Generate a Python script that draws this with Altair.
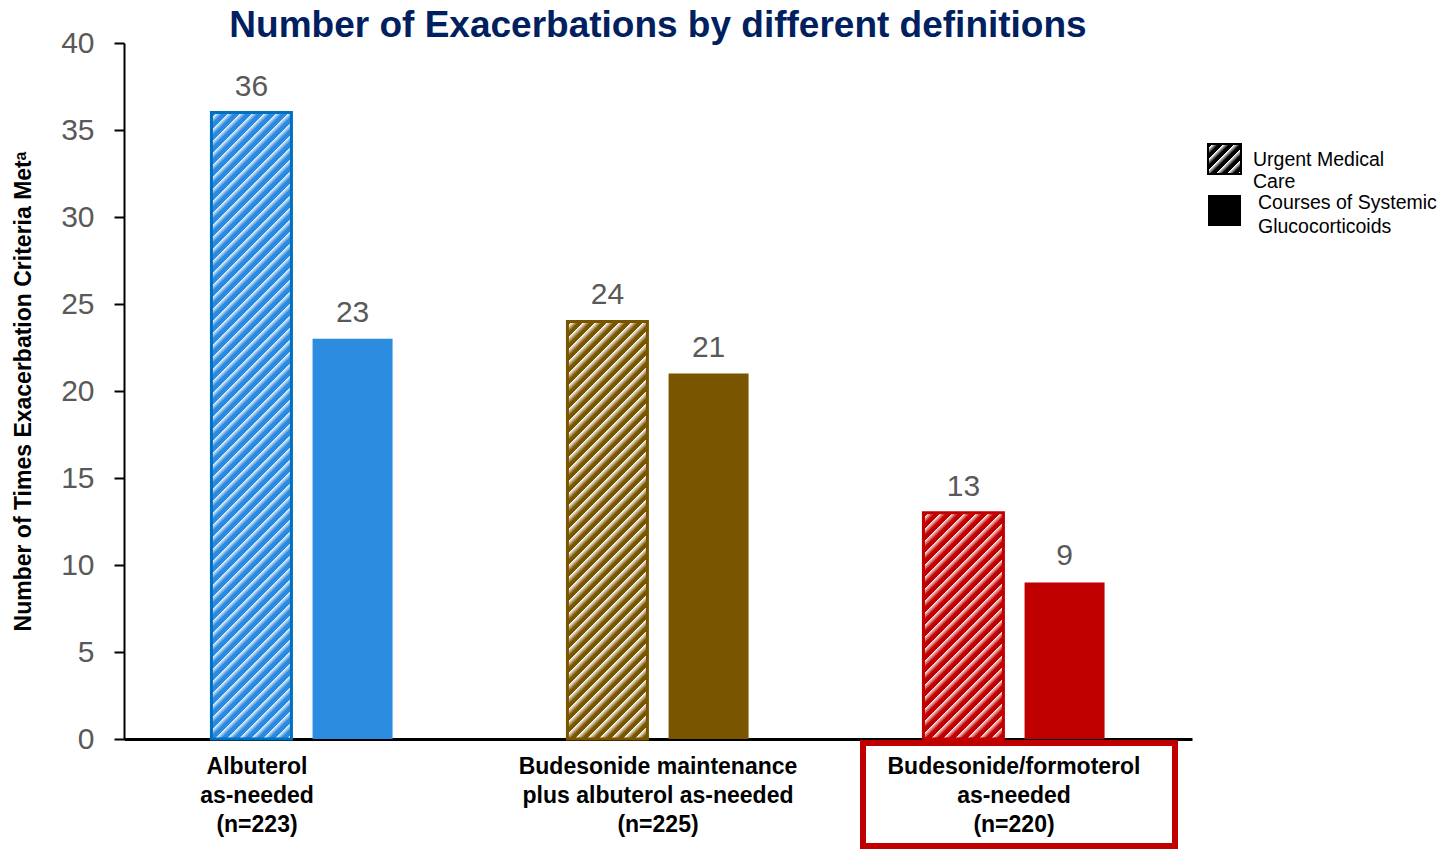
import altair as alt
import pandas as pd

# ---- data ----
groups = [
    "Albuterol|as-needed|(n=223)",
    "Budesonide maintenance|plus albuterol as-needed|(n=225)",
    "Budesonide/formoterol|as-needed|(n=220)",
]
series = ["Urgent Medical Care", "Courses of Systemic Glucocorticoids"]
urgent_care = [36, 24, 13]
systemic_gc = [23, 21, 9]

# ---- styles ----
FONT = "Liberation Sans"
solid_colors = ["#2B8CE0", "#7A5500", "#C00000"]
stripe_colors = ["#2B8AE0", "#7A5500", "#C00000"]
stroke_colors = ["#0070C0", "#7A5500", "#C00000"]

W, H = 1068, 696
YMAX = 40
BAR = 80


def hatch(color, w, h, period=12.0, line=5.0, bg="#FFFFFF"):
    """Diagonal '/' stripes as a hard-stop linear gradient in bbox units."""
    total = w + h
    stops = []
    k = 0
    while k * period < total:
        a = k * period / total
        b = min((k * period + line) / total, 1.0)
        stops += [
            {"offset": a, "color": color},
            {"offset": b, "color": color},
            {"offset": b, "color": bg},
        ]
        k += 1
    stops.append({"offset": 1.0, "color": bg})
    d = w * w + h * h
    return {
        "gradient": "linear",
        "x1": 0, "y1": 0,
        "x2": w * total / d, "y2": h * total / d,
        "stops": stops,
    }


df = pd.DataFrame({
    "group": groups * 2,
    "series": [series[0]] * 3 + [series[1]] * 3,
    "value": urgent_care + systemic_gc,
})

x_enc = alt.X(
    "group:N", sort=groups,
    scale=alt.Scale(domain=groups, paddingInner=0, paddingOuter=0),
    axis=alt.Axis(
        title=None, labelExpr="split(datum.label, '|')", labelAngle=0,
        ticks=False, domainColor="black", domainWidth=3,
        labelFont=FONT, labelFontSize=23, labelFontWeight="bold",
        labelColor="black", labelPadding=16, labelLimit=600,
        labelLineHeight=29, labelBaseline="top",
        labelOffset={"condition": {"test": f"datum.value == '{groups[0]}'", "value": -45}, "value": 0},
    ),
)
xo_enc = alt.XOffset(
    "series:N", sort=series,
    scale=alt.Scale(domain=series, paddingInner=0, paddingOuter=0.76),
)
y_enc = alt.Y(
    "value:Q",
    scale=alt.Scale(domain=[0, YMAX], nice=False),
    axis=alt.Axis(
        values=list(range(0, 41, 5)), grid=False,
        title="Number of Times Exacerbation Criteria Metᵃ",
        titleFont=FONT, titleFontSize=23, titleFontWeight="bold",
        titleColor="black", titlePadding=25,
        labelFont=FONT, labelFontSize=30, labelColor="#595959",
        labelPadding=20, tickSize=10, tickColor="black", tickWidth=2,
        domainColor="black", domainWidth=2,
    ),
)

base = alt.Chart(df).encode(x=x_enc, xOffset=xo_enc, y=y_enc)

layers = []
solid = base.transform_filter(alt.datum.series == series[1]).mark_bar(size=BAR).encode(
    color=alt.Color("group:N", scale=alt.Scale(domain=groups, range=solid_colors), legend=None)
)
layers.append(solid)

for i, g in enumerate(groups):
    h_px = urgent_care[i] * H / YMAX
    hb = base.transform_filter(
        (alt.datum.series == series[0]) & (alt.datum.group == g)
    ).mark_bar(
        size=BAR, fill=hatch(stripe_colors[i], BAR, h_px),
        stroke=stroke_colors[i], strokeWidth=3,
    )
    layers.append(hb)

labels = base.mark_text(
    baseline="alphabetic", dy=-17, fontSize=30, color="#595959", font=FONT
).encode(text="value:Q")
layers.append(labels)

# ---- legend & annotation ----
one = pd.DataFrame({"k": [0]})

box = alt.Chart(one).mark_rect(fillOpacity=0, stroke="#C00000", strokeWidth=6).encode(
    x=alt.value(739), x2=alt.value(1051), y=alt.value(700), y2=alt.value(803)
)
layers.append(box)

leg_h = alt.Chart(one).mark_rect(
    fill=hatch("#000000", 33, 30, period=11, line=5), stroke="black", strokeWidth=2
).encode(x=alt.value(1084), x2=alt.value(1117), y=alt.value(101), y2=alt.value(131))
leg_s = alt.Chart(one).mark_rect(fill="black").encode(
    x=alt.value(1084), x2=alt.value(1117), y=alt.value(152), y2=alt.value(183)
)
layers += [leg_h, leg_s]


def ltext(txt, x, y):
    return alt.Chart(one).mark_text(
        align="left", baseline="middle", fontSize=19.5, font=FONT, color="black"
    ).encode(x=alt.value(x), y=alt.value(y), text=alt.value(txt))


layers += [
    ltext("Urgent Medical", 1129, 117),
    ltext("Care", 1129, 139),
    ltext("Courses of Systemic", 1134, 160),
    ltext("Glucocorticoids", 1134, 184),
]

chart = alt.layer(*layers).properties(
    width=W, height=H,
    title=alt.TitleParams(
        "Number of Exacerbations by different definitions",
        font=FONT, fontSize=37, fontWeight="bold", color="#002060",
        anchor="middle", frame="group", baseline="alphabetic", offset=-8, dy=38,
    ),
    autosize=alt.AutoSizeParams(type="none"),
    padding={"left": 124, "top": 43, "right": 255, "bottom": 110},
    background="white",
).configure_view(stroke=None)

chart.save("out.html", embed_options={"renderer": "svg", "actions": False})
